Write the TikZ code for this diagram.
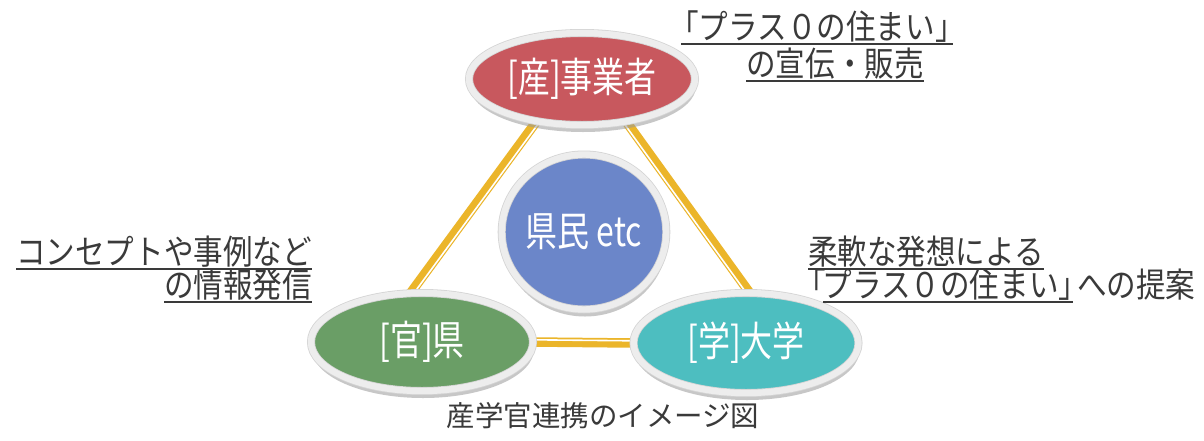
\documentclass[tikz,border=0pt]{standalone}
\usepackage{fontspec}
\setmainfont{Noto Sans CJK JP}
\newfontfamily\nodefont{Noto Sans CJK JP}[FakeStretch=0.78]
\newfontfamily\lblfont{Noto Sans CJK JP}[FakeStretch=0.87]
\usetikzlibrary{shapes.geometric,shadows,calc}
\pgfdeclarelayer{bg}
\pgfsetlayers{bg,main}
\definecolor{redc}{HTML}{C8585E}
\definecolor{bluec}{HTML}{6B86C9}
\definecolor{greenc}{HTML}{6A9E66}
\definecolor{tealc}{HTML}{4DBEC0}
\definecolor{yelc}{HTML}{EBB52A}
\definecolor{rimc}{HTML}{EDEDED}
\definecolor{rimedge}{HTML}{D4D4D4}
\definecolor{txtc}{HTML}{3A3A3A}
\tikzset{
  oval/.style={ellipse, draw=rimedge, line width=0.8pt, double=rimc, double distance=6.4pt,
    inner sep=0pt, text=white,
    font=\nodefont\fontsize{41}{41}\selectfont,
    drop shadow={shadow xshift=1pt, shadow yshift=-7pt, fill=gray!80, opacity=0.55}},
  link/.style={draw=yelc, line width=9.5pt},
  stripe/.style={draw=white, line width=1.6pt},
  lbl/.style={inner sep=0pt, outer sep=0pt, text=txtc, font=\lblfont\fontsize{34}{34}\selectfont},
  uline/.style={draw=txtc, line width=1.4pt},
  capt/.style={inner sep=0pt, text=txtc, font=\fontsize{28.5}{28.5}\selectfont}
}
\begin{document}
\begin{tikzpicture}[x=1pt,y=-1pt]
\begin{pgfonlayer}{bg}
\path[use as bounding box, fill=white] (0,0) rectangle (1204,440);
\end{pgfonlayer}

% nodes
\node[oval, fill=redc, minimum width=226pt, minimum height=92pt] (ind) at (582,79) {[産]事業者};
\node[oval, fill=bluec, minimum width=150pt, minimum height=155pt] (cit) at (584,232) {県民 etc};
\node[oval, fill=greenc, minimum width=222pt, minimum height=98pt] (gov) at (422,342) {[官]県};
\node[oval, fill=tealc, minimum width=225pt, minimum height=100pt] (uni) at (746,343) {[学]大学};

% connectors
\begin{pgfonlayer}{bg}
\draw[link] (ind.223) -- (gov.103);
\draw[stripe, transform canvas={shift={(2.2,1.7)}}] (ind.223) -- (gov.103);
\draw[link] (ind.316) -- (uni.86);
\draw[stripe, transform canvas={shift={(-2.2,1.7)}}] (ind.316) -- (uni.86);
\draw[link] (gov.east) -- (uni.west);
\draw[stripe, transform canvas={shift={(0,-2.2)}}] (gov.east) -- (uni.west);
\end{pgfonlayer}

% top label
\node[lbl, anchor=base] (t1) at (817,39) {「プラス０の住まい」};
\node[lbl, anchor=base] (t2) at (835,76) {の宣伝・販売};
\draw[uline] ([xshift=12pt,yshift=-5pt]t1.base west) -- ([xshift=-12pt,yshift=-5pt]t1.base east);
\draw[uline] ([yshift=-5pt]t2.base west) -- ([yshift=-5pt]t2.base east);

% left label
\node[lbl, anchor=base east] (l1) at (312,264) {コンセプトや事例など};
\node[lbl, anchor=base east] (l2) at (312,297) {の情報発信};
\draw[uline] ([yshift=-5pt]l1.base west) -- ([yshift=-5pt]l1.base east);
\draw[uline] ([yshift=-5pt]l2.base west) -- ([yshift=-5pt]l2.base east);

% right label
\node[lbl, anchor=base west] (r1) at (808,264) {柔軟な発想による};
\draw[uline] ([yshift=-5pt]r1.base west) -- ([yshift=-5pt]r1.base east);
\node[lbl, anchor=base west] (r2a) at (796,297) {「};
\node[lbl, anchor=base west] (r2b) at ([xshift=-3pt]r2a.base east) {プラス０の住まい};
\node[lbl, anchor=base west] (r2c) at (r2b.base east) {」};
\node[lbl, anchor=base west] (r2d) at ([xshift=-11pt]r2c.base east) {への提案};
\draw[uline] ([yshift=-5pt]r2b.base west) -- ([yshift=-5pt]r2c.base);

% caption
\node[capt, anchor=base] (cap) at (603,426) {産学官連携のイメージ図};
\end{tikzpicture}
\end{document}
